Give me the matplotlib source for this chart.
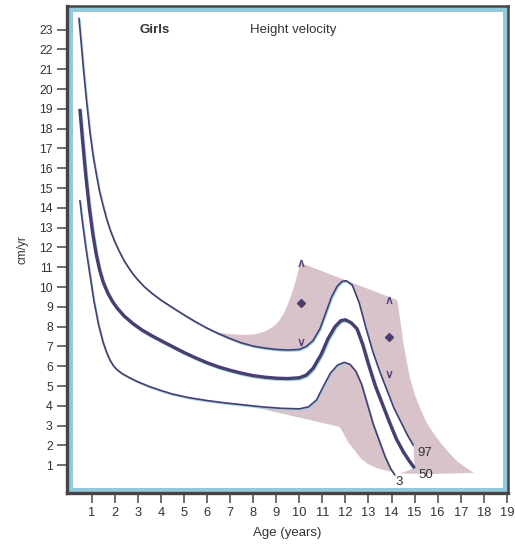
import matplotlib
matplotlib.use("Agg")
import matplotlib.pyplot as plt
import matplotlib.patheffects as pe
from matplotlib.patches import Polygon, Rectangle

plt.rcParams['font.family'] = ['Liberation Sans', 'DejaVu Sans']

# percentile curves (age in years, cm/yr)
age_97 = [0.45, 0.55, 0.64, 0.78, 0.93, 1.07, 1.22, 1.35, 1.5, 1.65, 1.8, 2.0, 2.2, 2.4, 2.6, 2.8, 3.0,
          3.3, 3.6, 4.0, 4.5, 5.0, 5.5, 6.0, 6.5, 7.0, 7.5, 8.0, 8.5, 9.0, 9.5, 10.0, 10.3, 10.6,
          10.9, 11.15, 11.4, 11.65, 11.85, 12.04, 12.3, 12.6, 12.9, 13.2, 13.5, 13.8, 14.1, 14.4,
          14.7, 14.95]
vel_97 = [23.6, 22.3, 21.1, 19.4, 17.8, 16.6, 15.6, 14.8, 14.1, 13.45, 12.9, 12.3, 11.8, 11.35, 10.98, 10.65, 10.37,
          10.0, 9.7, 9.35, 8.97, 8.6, 8.25, 7.93, 7.65, 7.4, 7.18, 7.02, 6.92, 6.85, 6.82, 6.85, 7.0, 7.3,
          7.9, 8.7, 9.5, 10.05, 10.28, 10.32, 10.1, 9.2, 7.9, 6.7, 5.7, 4.8, 3.9, 3.2,
          2.5, 2.0]

age_50 = [0.49, 0.6, 0.75, 0.9, 1.05, 1.2, 1.35, 1.5, 1.7, 1.9, 2.1, 2.4, 2.8, 3.2, 3.6, 4.0, 4.5,
          5.0, 5.5, 6.0, 6.5, 7.0, 7.5, 8.0, 8.5, 9.0, 9.5, 10.0, 10.3, 10.6, 10.95, 11.25, 11.55,
          11.8, 12.0, 12.25, 12.5, 12.75, 13.0, 13.3, 13.6, 13.9, 14.2, 14.5, 14.75, 15.0]
vel_50 = [19.0, 17.5, 15.6, 14.0, 12.7, 11.65, 10.85, 10.25, 9.7, 9.28, 8.95, 8.55, 8.15, 7.82, 7.55, 7.3, 7.0,
          6.7, 6.43, 6.18, 5.97, 5.8, 5.65, 5.53, 5.45, 5.4, 5.38, 5.42, 5.55, 5.9, 6.6, 7.4, 8.0,
          8.3, 8.35, 8.2, 7.9, 7.1, 6.1, 5.0, 4.1, 3.2, 2.35, 1.7, 1.25, 0.85]

age_3 = [0.49, 0.6, 0.75, 0.93, 1.1, 1.3, 1.5, 1.65, 1.8, 1.95, 2.1, 2.3, 2.6, 3.0, 3.5, 4.0, 4.5, 5.2,
         6.0, 6.8, 7.6, 8.4, 9.2, 10.0, 10.4, 10.75, 11.05, 11.35, 11.65, 11.95, 12.2, 12.45, 12.7,
         12.95, 13.2, 13.45, 13.7, 13.95, 14.15]
vel_3 = [14.4, 13.3, 12.0, 10.6, 9.3, 8.1, 7.2, 6.7, 6.3, 6.02, 5.83, 5.65, 5.45, 5.22, 4.98, 4.78, 4.6, 4.42,
         4.27, 4.15, 4.05, 3.95, 3.88, 3.85, 3.95, 4.3, 5.0, 5.65, 6.05, 6.2, 6.1, 5.75, 5.1,
         4.1, 3.1, 2.3, 1.5, 0.85, 0.5]

# shaded range around puberty
band_age = [5.9, 6.4, 7.0, 7.6, 8.1, 8.5, 8.85, 9.1, 9.3, 9.5, 9.7, 9.88, 10.04,
            14.25, 14.38, 14.5, 14.65, 14.8, 15.0, 15.25, 15.5, 15.8, 16.15, 16.5, 16.85, 17.2, 17.56,
            16.5, 15.5, 14.6, 14.15, 13.4, 13.0, 12.7, 12.4, 12.1, 11.9, 11.75, 7.6, 7.0]
band_vel = [7.88, 7.72, 7.62, 7.58, 7.62, 7.75, 7.98, 8.25, 8.6, 9.1, 9.75, 10.45, 11.23,
            9.34, 8.3, 7.3, 6.3, 5.4, 4.6, 3.85, 3.2, 2.65, 2.1, 1.62, 1.2, 0.9, 0.62,
            0.58, 0.56, 0.58, 0.62, 0.84, 1.05, 1.3, 1.75, 2.2, 2.65, 2.94, 4.05, 5.5]

# markers (^ diamond v) at two ages
mark_age = [10.08, 13.88]
mark_up = [11.2, 9.34]
mark_mid = [9.17, 7.49]
mark_down = [7.24, 5.6]

line_col = '#4a3d70'
shadow = '#9ed6e8'
pink = '#d9c3cb'
text_col = '#333333'

fig = plt.figure(figsize=(5.15, 5.5), dpi=100)
ax = fig.add_axes([0.1295, 0.1036, 0.857, 0.8854])

ax.add_patch(Polygon(list(zip(band_age, band_vel)), closed=True, facecolor=pink, edgecolor='none', zorder=1))
white_band = (list(zip(age_97, vel_97)) + [(age_50[-1], vel_50[-1])]
              + list(zip(age_3[::-1], vel_3[::-1])))
ax.add_patch(Polygon(white_band, closed=True, facecolor='white', edgecolor='none', zorder=1.5))

fx = [pe.SimpleLineShadow(offset=(0.6, -0.8), shadow_color=shadow, alpha=1), pe.Normal()]
ax.plot(age_97, vel_97, color=line_col, lw=1.2, zorder=3, path_effects=fx, solid_capstyle='butt')
ax.plot(age_50, vel_50, color=line_col, lw=2.4, zorder=3, path_effects=fx, solid_capstyle='butt')
ax.plot(age_3, vel_3, color=line_col, lw=1.2, zorder=3, path_effects=fx, solid_capstyle='butt')

ax.plot(mark_age, mark_up, ls='none', marker=r'$\wedge$', ms=5, mew=0.2, color=line_col, zorder=4)
ax.plot(mark_age, mark_mid, ls='none', marker='D', ms=4, color=line_col, zorder=4)
ax.plot(mark_age, mark_down, ls='none', marker=r'$\vee$', ms=5, mew=0.2, color=line_col, zorder=4)

ax.text(15.1, 1.6, '97', fontsize=9.5, color=text_col, va='center', ha='left', zorder=5)
ax.text(15.15, 0.5, '50', fontsize=9.5, color=text_col, va='center', ha='left', zorder=5)
ax.text(14.35, 0.15, '3', fontsize=9.5, color=text_col, va='center', ha='center', zorder=5)

ax.text(3.75, 23.0, 'Girls', fontsize=9.5, fontweight='bold', color=text_col, ha='center', va='center')
ax.text(9.75, 23.0, 'Height velocity', fontsize=9.5, color=text_col, ha='center', va='center')

ax.set_xlim(-0.08, 19.05)
ax.set_ylim(-0.4, 24.19)
ax.set_xticks(range(1, 20))
ax.set_yticks(range(1, 24))
ax.tick_params(axis='both', direction='out', length=7, width=1.2, color='#555555',
               labelcolor=text_col, labelsize=8.8, pad=3)
ax.tick_params(axis='x', labelsize=9.3)
ax.set_xlabel('Age (years)', fontsize=9.5, color=text_col, labelpad=6)
ax.set_ylabel('cm/yr', fontsize=8.5, color=text_col, labelpad=8)

# frame: light blue band inside a dark line
ax.add_patch(Rectangle((0, 0), 1, 1, transform=ax.transAxes, fill=False,
                       edgecolor='#8ecae0', lw=8, zorder=6))
for s in ax.spines.values():
    s.set_color('#444444')
    s.set_linewidth(1.8)
    s.set_zorder(7)
ax.spines['left'].set_linewidth(2.4)
ax.spines['bottom'].set_linewidth(2.4)

fig.savefig('out.png', dpi=100)
